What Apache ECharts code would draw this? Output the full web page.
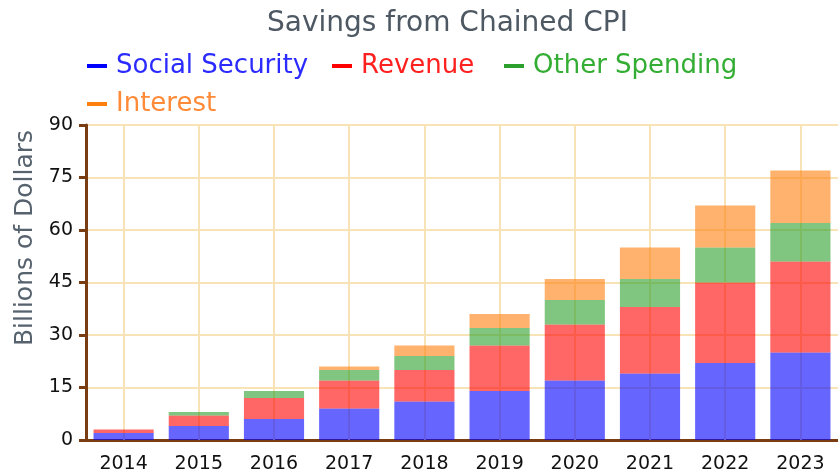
<!DOCTYPE html>
<html>
<head>
    <meta charset="UTF-8">
    <title>Savings from Chained CPI</title>
    <style>
        body { margin: 0; background: #fff; }
        #chart { width: 838px; height: 475px; }
    </style>
</head>
<body>
    <div id="chart"></div>
    <script src="https://cdn.jsdelivr.net/npm/echarts@6/dist/echarts.min.js"></script>
    <script>
        // data (billions of dollars)
        const years = ['2014', '2015', '2016', '2017', '2018', '2019', '2020', '2021', '2022', '2023'];
        const socialSecurity = [2, 4, 6, 9, 11, 14, 17, 19, 22, 25];
        const revenue = [1, 3, 6, 8, 9, 13, 16, 19, 23, 26];
        const otherSpending = [0, 1, 2, 3, 4, 5, 7, 8, 10, 11];
        const interest = [0, 0, 0, 1, 3, 4, 6, 9, 12, 15];
        const yTicks = [0, 15, 30, 45, 60, 75, 90];

        const font = 'DejaVu Sans, Verdana, sans-serif';
        const brown = '#7a3d12';
        const gridColor = '#f7e3b6';

        const seriesDefs = [
            { name: 'Social Security', data: socialSecurity, color: '#0000ff', text: '#2b2bff' },
            { name: 'Revenue', data: revenue, color: '#ff0000', text: '#ff2020' },
            { name: 'Other Spending', data: otherSpending, color: '#2ca02c', text: '#33ad33' },
            { name: 'Interest', data: interest, color: '#ff7f0e', text: '#ff8a38' }
        ];
        const legendPos = [
            { left: 82, top: 48 }, { left: 327, top: 48 },
            { left: 499, top: 48 }, { left: 82, top: 86 }
        ];

        const chart = echarts.init(document.getElementById('chart'));

        const option = {
            animation: false,
            title: {
                text: 'Savings from Chained CPI',
                left: 262, top: 5,
                textStyle: { fontFamily: font, fontSize: 28, fontWeight: 'normal', color: '#4d5863' }
            },
            legend: seriesDefs.map((s, i) => ({
                left: legendPos[i].left, top: legendPos[i].top,
                data: [{ name: s.name, itemStyle: { color: s.color, opacity: 1 } }],
                icon: 'rect', itemWidth: 20, itemHeight: 4,
                textStyle: { fontFamily: font, fontSize: 26, color: s.text, padding: [0, 0, 0, 4] }
            })),
            graphic: [{
                type: 'text',
                x: 25, y: 238, rotation: Math.PI / 2,
                style: {
                    text: 'Billions of Dollars',
                    font: '25px ' + font, fill: '#56626d',
                    align: 'center', verticalAlign: 'middle'
                }
            }],
            grid: { left: 86, top: 125, width: 755, bottom: 35 },
            xAxis: {
                type: 'category',
                data: years,
                axisLine: { lineStyle: { color: brown, width: 3 } },
                axisTick: { alignWithLabel: true, length: 7, lineStyle: { color: brown, width: 3 } },
                axisLabel: { fontFamily: font, fontSize: 19, color: '#111', margin: 15 },
                splitLine: { show: false }
            },
            yAxis: {
                type: 'value',
                min: yTicks[0], max: yTicks[yTicks.length - 1], interval: 15,
                axisLine: { show: true, lineStyle: { color: brown, width: 3 } },
                axisTick: { show: true, length: 7, lineStyle: { color: brown, width: 3 } },
                axisLabel: { fontFamily: font, fontSize: 19, color: '#111', margin: 13 },
                splitLine: { lineStyle: { color: gridColor, width: 2 } }
            },
            series: seriesDefs.map(s => ({
                name: s.name,
                type: 'bar',
                stack: 'total',
                barWidth: '80%',
                z: 2,
                itemStyle: { color: s.color, opacity: 0.6 },
                data: s.data
            })).concat([{
                // vertical grid lines at the category centres
                name: 'vgrid',
                type: 'line',
                z: 1,
                data: [],
                silent: true,
                markLine: {
                    silent: true,
                    z: 1,
                    symbol: 'none',
                    label: { show: false },
                    lineStyle: { color: gridColor, width: 2, type: 'solid' },
                    data: years.map(y => ({ xAxis: y }))
                }
            }])
        };

        chart.setOption(option);
    </script>
</body>
</html>
